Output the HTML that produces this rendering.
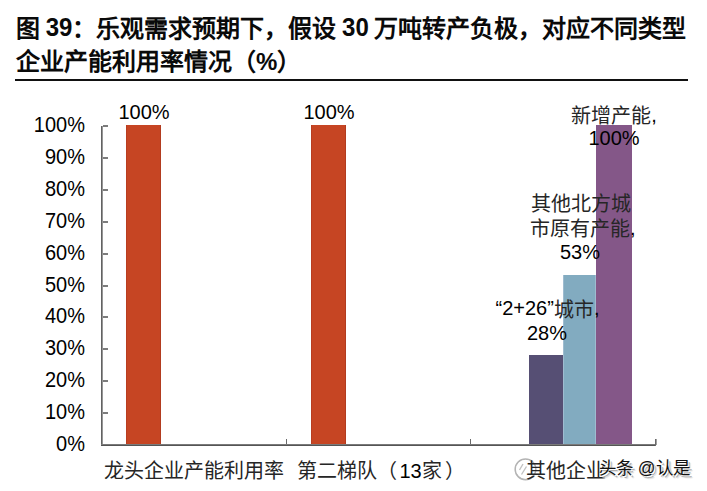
<!DOCTYPE html>
<html lang="zh-CN">
<head>
<meta charset="utf-8">
<style>
html,body{margin:0;padding:0;background:#fff;}
body{width:707px;height:491px;position:relative;overflow:hidden;font-family:"Liberation Sans",sans-serif;color:#000;}
.t{position:absolute;white-space:nowrap;}
.title{left:16px;font-size:24px;font-weight:bold;line-height:32px;color:#0a0a0a;word-spacing:-1px;}
.d{display:inline-block;transform:translateY(-0.5px) scaleY(1.08);transform-origin:50% 80%;}
.rule{position:absolute;left:15px;top:79px;width:673px;height:2px;background:#111;}
.ax{position:absolute;background:#6a6a6a;}
.yl{position:absolute;right:622px;font-size:20px;line-height:20px;text-align:right;transform:scaleY(1.06);transform-origin:50% 55%;}
.bar{position:absolute;}
.lbl{position:absolute;width:100px;font-size:20px;line-height:24px;text-align:center;white-space:nowrap;}
.c{position:relative;top:1px;color:#262626;}
.xl{position:absolute;font-size:20px;line-height:22px;white-space:nowrap;color:#262626;}
</style>
</head>
<body>
<div class="t title" style="top:12.5px;">图 <span class="d">39</span>：乐观需求预期下，假设 <span class="d">30</span> 万吨转产负极，对应不同类型</div>
<div class="t title" style="top:45.5px;">企业产能利用率情况（%）</div>
<div class="rule"></div>

<!-- y labels -->
<div class="yl" style="top:115px;">100%</div>
<div class="yl" style="top:147px;">90%</div>
<div class="yl" style="top:179px;">80%</div>
<div class="yl" style="top:211px;">70%</div>
<div class="yl" style="top:243px;">60%</div>
<div class="yl" style="top:275px;">50%</div>
<div class="yl" style="top:306px;">40%</div>
<div class="yl" style="top:338px;">30%</div>
<div class="yl" style="top:370px;">20%</div>
<div class="yl" style="top:402px;">10%</div>
<div class="yl" style="top:434px;">0%</div>

<!-- bars -->
<div class="bar" style="left:126px;top:125px;width:35px;height:319px;background:#c64523;box-shadow:inset 1px 0 0 #b83d20,inset -1px 0 0 #b23b1f;"></div>
<div class="bar" style="left:311px;top:125px;width:35px;height:319px;background:#c64523;box-shadow:inset 1px 0 0 #b83d20,inset -1px 0 0 #b23b1f;"></div>
<div class="bar" style="left:529px;top:355px;width:34px;height:89px;background:#564f74;"></div>
<div class="bar" style="left:563px;top:275px;width:33px;height:169px;background:#82abc0;box-shadow:inset 1px 0 0 #9fbcd0,inset -1px 0 0 #9fbcd0;"></div>
<div class="bar" style="left:596px;top:125px;width:36px;height:319px;background:#845788;"></div>

<!-- axes -->
<div class="ax" style="left:101px;top:126px;width:1px;height:320px;background:#626262;"></div>
<div class="ax" style="left:102px;top:126px;width:1px;height:318px;background:#969696;"></div>
<div class="ax" style="left:101px;top:444px;width:555px;height:1px;background:#7a7a7a;"></div>
<div class="ax" style="left:101px;top:445px;width:555px;height:1px;background:#555;"></div>
<!-- y ticks -->
<div class="ax" style="left:103px;top:125px;width:5px;height:2px;background:#7c7c7c;"></div>
<div class="ax" style="left:103px;top:157px;width:5px;height:2px;background:#7c7c7c;"></div>
<div class="ax" style="left:103px;top:189px;width:5px;height:2px;background:#7c7c7c;"></div>
<div class="ax" style="left:103px;top:221px;width:5px;height:2px;background:#7c7c7c;"></div>
<div class="ax" style="left:103px;top:253px;width:5px;height:2px;background:#7c7c7c;"></div>
<div class="ax" style="left:103px;top:285px;width:5px;height:2px;background:#7c7c7c;"></div>
<div class="ax" style="left:103px;top:316px;width:5px;height:2px;background:#7c7c7c;"></div>
<div class="ax" style="left:103px;top:348px;width:5px;height:2px;background:#7c7c7c;"></div>
<div class="ax" style="left:103px;top:380px;width:5px;height:2px;background:#7c7c7c;"></div>
<div class="ax" style="left:103px;top:412px;width:5px;height:2px;background:#7c7c7c;"></div>
<!-- x ticks -->
<div class="ax" style="left:286px;top:439px;width:1px;height:5px;"></div>
<div class="ax" style="left:470px;top:439px;width:1px;height:5px;"></div>
<div class="ax" style="left:655px;top:439px;width:1px;height:7px;"></div>
<div class="ax" style="left:656px;top:439px;width:1px;height:6px;background:#a0a0a0;"></div>

<!-- data labels -->
<div class="lbl" style="left:94px;top:100px;">100%</div>
<div class="lbl" style="left:279px;top:100px;">100%</div>
<div class="lbl" style="left:564px;top:103px;"><span class="c">新增产能</span>,</div>
<div class="lbl" style="left:564px;top:126px;">100%</div>
<div class="lbl" style="left:531px;top:191px;"><span class="c">其他北方城</span></div>
<div class="lbl" style="left:530px;top:216px;"><span class="c">市原有产能</span>,</div>
<div class="lbl" style="left:530px;top:240px;">53%</div>
<div class="lbl" style="left:495.5px;top:296px;">“2+26”<span class="c" style="top:2px">城市</span>,</div>
<div class="lbl" style="left:497px;top:321px;">28%</div>

<!-- x labels -->
<div class="xl" style="left:104px;top:459.5px;">龙头企业产能利用率</div>
<div class="xl" style="left:297px;top:459.5px;">第二梯队（<span style="margin-left:2.5px;color:#000">13</span>家<span style="margin-left:3.5px">）</span></div>
<!-- watermark -->
<svg style="position:absolute;left:512px;top:456px;" width="28" height="28" viewBox="0 0 28 28">
<circle cx="13.5" cy="13.3" r="10.3" fill="none" stroke="#b4b4b4" stroke-width="1.6"/>
<circle cx="13.5" cy="13.3" r="8.8" fill="none" stroke="#fff" stroke-width="1"/>
<path d="M9.5 18.5 L14.5 10.5 M7.5 14 L11 8" stroke="#c2c2c2" stroke-width="1.4" fill="none"/>
</svg>
<div class="xl" style="left:526px;top:459.5px;">其他企业</div>
<div class="t" style="left:599px;top:457px;font-size:17.5px;line-height:22px;color:#111;text-shadow:1px 1px 0 #fff,2px 2px 0 #b0b0b0,3px 3px 1px #ddd;">头条 @认是</div>
</body>
</html>
